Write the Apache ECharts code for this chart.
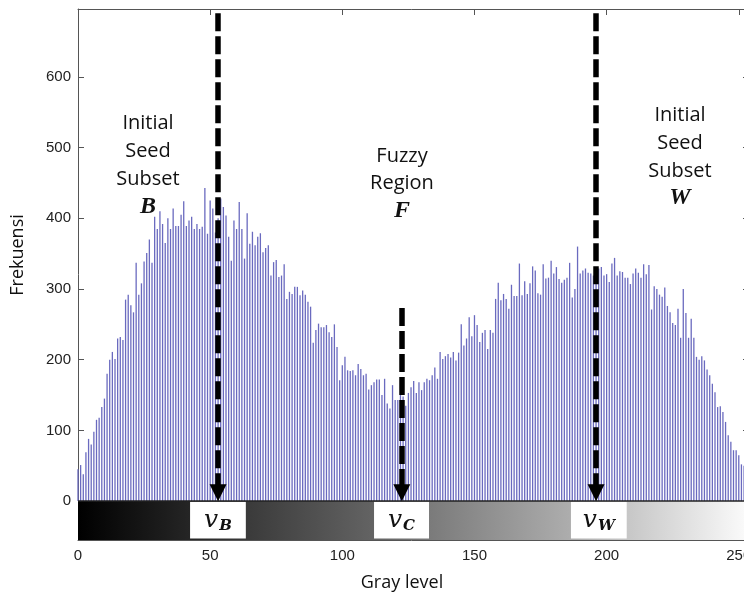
<!DOCTYPE html>
<html>
<head>
<meta charset="utf-8">
<script src="https://cdn.jsdelivr.net/npm/echarts@6/dist/echarts.min.js"></script>
<style>
  html, body { margin: 0; padding: 0; background: #fff; }
  #char { width: 744px; height: 592px; }
</style>
</head>
<body>
<div id="char"></div>
<script>
// histogram counts, gray level 0..255
var counts = [
  45, 51, 38, 69, 88, 80, 98, 115, 118, 133,
  145, 180, 200, 211, 201, 230, 232, 228, 285, 292,
  277, 267, 337, 292, 308, 339, 351, 370, 337, 402,
  385, 410, 392, 365, 400, 385, 414, 389, 389, 405,
  424, 389, 397, 402, 385, 392, 385, 388, 443, 378,
  425, 414, 380, 400, 428, 416, 404, 374, 340, 397,
  385, 423, 385, 343, 407, 364, 381, 362, 374, 379,
  352, 358, 362, 319, 338, 341, 317, 319, 335, 286,
  296, 293, 303, 303, 291, 298, 292, 282, 275, 224,
  242, 251, 246, 246, 249, 239, 232, 250, 218, 171,
  192, 204, 185, 184, 185, 178, 194, 187, 178, 180,
  158, 164, 168, 172, 172, 150, 173, 138, 131, 164,
  143, 143, 150, 148, 135, 153, 161, 170, 153, 168,
  157, 168, 173, 171, 178, 189, 173, 211, 201, 205,
  208, 203, 211, 199, 210, 250, 220, 230, 260, 233,
  263, 249, 225, 238, 242, 215, 242, 238, 286, 309,
  284, 293, 286, 272, 306, 290, 290, 336, 291, 311,
  293, 308, 332, 326, 294, 292, 335, 315, 316, 340,
  322, 331, 314, 309, 313, 316, 337, 288, 300, 360,
  322, 326, 329, 323, 322, 319, 326, 329, 331, 319,
  321, 310, 336, 344, 319, 325, 324, 316, 316, 307,
  322, 329, 323, 316, 335, 321, 334, 271, 304, 300,
  292, 289, 302, 276, 267, 252, 249, 272, 231, 300,
  266, 231, 258, 231, 204, 200, 205, 199, 186, 178,
  166, 154, 133, 134, 126, 112, 93, 84, 72, 72,
  65, 52, 50, 44, 39, 33
];
var yTicks = [0, 100, 200, 300, 400, 500, 600];
// threshold markers (gray level) and their names
var vNames = ['B', 'C', 'W'];
var vLevels = [53, 122.5, 196];
var vArrowTop = [690, 273, 690];
// white label boxes on the gray bar [from, to]
var vBoxes = [[42.4, 63.5], [112, 132.8], [186.5, 207.6]];

var dom = document.getElementById("char");
var myChart = echarts.init(dom, null, { renderer: 'canvas' });

var axisColor = '#555';
var barData = counts.map(function (c, i) { return [i, c]; });

var areaData = [[
  { xAxis: 0, yAxis: -55, itemStyle: {
      color: {
        type: 'linear', x: 0, y: 0, x2: 1, y2: 0,
        colorStops: [
          { offset: 0, color: '#000000' },
          { offset: 0.17, color: '#262626' },
          { offset: 0.25, color: '#3a3a3a' },
          { offset: 0.45, color: '#666666' },
          { offset: 0.52, color: '#7a7a7a' },
          { offset: 0.73, color: '#adadad' },
          { offset: 0.82, color: '#c8c8c8' },
          { offset: 1, color: '#fdfdfd' }
        ]
      }
    }, label: { show: false } },
  { xAxis: 255, yAxis: 0 }
]];
vBoxes.forEach(function (b, i) {
  areaData.push([
    { xAxis: b[0], yAxis: -53, itemStyle: { color: '#ffffff' },
      label: {
        show: true, position: 'inside',
        formatter: '{v|v}{s|' + vNames[i] + '}',
        rich: {
          v: { fontFamily: 'DejaVu Serif', fontStyle: 'italic', fontSize: 25, color: '#111', padding: [0, 1, 0, 0] },
          s: { fontFamily: 'DejaVu Serif', fontStyle: 'italic', fontWeight: 'bold', fontSize: 15, color: '#111', padding: [12, 0, 0, 0] }
        }
      } },
    { xAxis: b[1], yAxis: -1 }
  ]);
});

var lineData = [[
  { coord: [0, 0], symbol: 'none' },
  { coord: [255, 0], symbol: 'none', lineStyle: { type: 'solid', width: 1.5, color: '#222' } }
]];
vLevels.forEach(function (v, i) {
  lineData.push([
    { coord: [v, vArrowTop[i]], symbol: 'none' },
    { coord: [v, 12], symbol: 'triangle', symbolSize: [17, 17] }
  ]);
});

option = {
  animation: false,
  grid: { left: 78, top: 9, right: -8, bottom: 52, containLabel: false, outerBoundsMode: 'none' },
  xAxis: [
    {
      type: 'value', min: 0, max: 255, interval: 50, position: 'bottom',
      axisLine: { onZero: false, lineStyle: { color: axisColor } },
      axisTick: { inside: true, length: 6, lineStyle: { color: axisColor } },
      axisLabel: { showMaxLabel: false, color: '#222', fontFamily: 'Liberation Sans', fontSize: 15, margin: 8 },
      splitLine: { show: false }
    },
    {
      type: 'value', min: 0, max: 255, interval: 50, position: 'top',
      axisLine: { onZero: false, lineStyle: { color: axisColor } },
      axisTick: { inside: true, length: 6, lineStyle: { color: axisColor } },
      axisLabel: { show: false },
      splitLine: { show: false }
    }
  ],
  yAxis: [
    {
      type: 'value', min: -55, max: 696, position: 'left',
      axisLine: { show: true, onZero: false, lineStyle: { color: axisColor } },
      axisTick: { show: true, inside: true, length: 6, customValues: yTicks, lineStyle: { color: axisColor } },
      axisLabel: { customValues: yTicks, color: '#222', fontFamily: 'Liberation Sans', fontSize: 15, margin: 7 },
      splitLine: { show: false }
    },
    {
      type: 'value', min: -55, max: 696, position: 'right',
      axisLine: { show: true, onZero: false, lineStyle: { color: axisColor } },
      axisTick: { show: true, inside: true, length: 9, customValues: yTicks, lineStyle: { color: axisColor } },
      axisLabel: { show: false },
      splitLine: { show: false }
    }
  ],
  graphic: [
    { type: 'text', x: 148, y: 151, style: { text: 'Initial\nSeed\nSubset', align: 'center', verticalAlign: 'middle', lineHeight: 28, font: '20px "Open Sans"', fill: '#111' } },
    { type: 'text', x: 148, y: 207, style: { text: 'B', align: 'center', verticalAlign: 'middle', font: 'italic bold 24px "Liberation Serif"', fill: '#111' } },
    { type: 'text', x: 402, y: 170, style: { text: 'Fuzzy\nRegion', align: 'center', verticalAlign: 'middle', lineHeight: 27, font: '20px "Open Sans"', fill: '#111' } },
    { type: 'text', x: 402, y: 211, style: { text: 'F', align: 'center', verticalAlign: 'middle', font: 'italic bold 24px "Liberation Serif"', fill: '#111' } },
    { type: 'text', x: 680, y: 143, style: { text: 'Initial\nSeed\nSubset', align: 'center', verticalAlign: 'middle', lineHeight: 28, font: '20px "Open Sans"', fill: '#111' } },
    { type: 'text', x: 680, y: 198, style: { text: 'W', align: 'center', verticalAlign: 'middle', font: 'italic bold 24px "Liberation Serif"', fill: '#111' } },
    { type: 'text', x: 18, y: 255, rotation: Math.PI / 2, style: { text: 'Frekuensi', align: 'center', verticalAlign: 'middle', font: '18px "Open Sans"', fill: '#111' } },
    { type: 'text', x: 402, y: 583, style: { text: 'Gray level', align: 'center', verticalAlign: 'middle', font: '18px "Open Sans"', fill: '#111' } }
  ],
  series: [
    {
      type: 'bar',
      data: barData,
      barWidth: 1.3,
      itemStyle: { color: '#6a6abf' },
      silent: true,
      markArea: {
        silent: true,
        data: areaData
      },
      markLine: {
        silent: true,
        symbol: ['none', 'none'],
        label: { show: false },
        lineStyle: { type: [18, 5], width: 5.5, color: '#000', opacity: 1 },
        data: lineData
      }
    }
  ]
};
myChart.setOption(option);
</script>
</body>
